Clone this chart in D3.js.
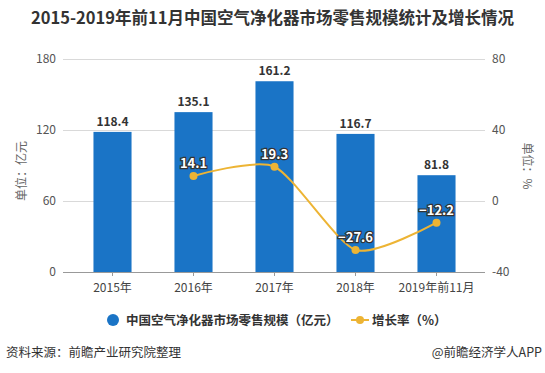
<!DOCTYPE html>
<html lang="zh">
<head>
<meta charset="UTF-8">
<title>空气净化器市场零售规模</title>
<style>
	*{margin:0;padding:0;}
	body{background:#fff;}
	#chart{width:545px;height:373px;}
	text{font-family:"Noto Sans CJK SC","Microsoft YaHei",sans-serif;}
</style>
</head>
<body>
<div id="chart"></div>
<script src="https://cdn.jsdelivr.net/npm/d3@7/dist/d3.min.js"></script>
<script>
var years = ['2015年','2016年','2017年','2018年','2019年前11月']
var scaleVals = [118.4,135.1,161.2,116.7,81.8]
var growth = [null,14.1,19.3,-27.6,-12.2]
var leftTicks = [0,60,120,180]
var rightTicks = [-40,0,40,80]

var W = 545, H = 373
var gTop = 59, gBottom = 272, gl = 63, gr = 485
var blue = '#1a74c6', gold = '#edb434'

var svg = d3.select('#chart').append('svg').attr('width', W).attr('height', H)

svg.append('text').text('2015-2019年前11月中国空气净化器市场零售规模统计及增长情况')
	.attr('x', W/2).attr('y', 24).attr('text-anchor','middle')
	.attr('font-size', 16.5).attr('font-weight','bold').attr('fill','#333')

var x = d3.scaleBand().domain(years).range([72, 477]).paddingInner(0.53).paddingOuter(0.265)
var yL = d3.scaleLinear().domain([0,180]).range([gBottom, gTop])
var yR = d3.scaleLinear().domain([-40,80]).range([gBottom, gTop])

// grid + left labels
var g = svg.append('g')
leftTicks.forEach(function(t){
	if(t !== 0) g.append('line').attr('x1', gl).attr('x2', gr).attr('y1', yL(t)+0.5).attr('y2', yL(t)+0.5)
		.attr('stroke','#d9d9d9').attr('stroke-width',1)
	g.append('text').text(t).attr('x', 56).attr('y', yL(t)+4).attr('text-anchor','end')
		.attr('font-size',12).attr('fill','#555')
})
rightTicks.forEach(function(t){
	g.append('text').text(t).attr('x', 492).attr('y', yR(t)+4)
		.attr('font-size',12).attr('fill','#555')
})

svg.append('text').text('单位：亿元').attr('transform','translate(26,171) rotate(-90)')
	.attr('text-anchor','middle').attr('font-size',12).attr('fill','#666')
svg.append('text').text('单位：%').attr('transform','translate(523,166) rotate(90)')
	.attr('text-anchor','middle').attr('font-size',12).attr('fill','#666')

// bars
svg.selectAll('rect.bar').data(scaleVals).enter().append('rect')
	.attr('x', function(d,i){return x(years[i])}).attr('width', x.bandwidth())
	.attr('y', function(d){return yL(d)}).attr('height', function(d){return gBottom - yL(d)})
	.attr('fill', blue)
svg.selectAll('text.bv').data(scaleVals).enter().append('text')
	.text(function(d){return d.toFixed(1)})
	.attr('x', function(d,i){return x(years[i]) + x.bandwidth()/2}).attr('y', function(d){return yL(d)-6})
	.attr('text-anchor','middle').attr('font-size',12).attr('font-weight','bold').attr('fill','#333')

// x axis
var xa = d3.axisBottom(x).tickSize(4).tickSizeOuter(0)
var ax = svg.append('g').attr('transform','translate(0,'+gBottom+')').call(xa)
ax.select('.domain').attr('d', 'M'+gl+',0.5H'+gr).attr('stroke','#999')
ax.selectAll('.tick line').attr('stroke','#999')
ax.selectAll('.tick text').attr('font-size',12).attr('fill','#444').attr('dy','1.1em')
	.style('font-family','"Noto Sans CJK SC",sans-serif')

// growth line
var pts = growth.map(function(d,i){return {v:d, x:x(years[i]) + x.bandwidth()/2}}).filter(function(p){return p.v !== null})
var line = d3.line().x(function(p){return p.x}).y(function(p){return yR(p.v)}).curve(d3.curveCardinal.tension(0.3))
svg.append('path').attr('d', line(pts)).attr('fill','none').attr('stroke', gold).attr('stroke-width',2)
svg.selectAll('circle.pt').data(pts).enter().append('circle')
	.attr('cx', function(p){return p.x}).attr('cy', function(p){return yR(p.v)}).attr('r',4).attr('fill', gold)
svg.selectAll('text.lv').data(pts).enter().append('text')
	.text(function(p){return p.v.toFixed(1).replace('-','−')})
	.attr('x', function(p){return p.x}).attr('y', function(p){return yR(p.v)-8})
	.attr('text-anchor','middle').attr('font-size',13).attr('font-weight','bold')
	.attr('fill','#fff').attr('stroke','#333').attr('stroke-width',2.5).attr('paint-order','stroke')

// legend
svg.append('circle').attr('cx',113).attr('cy',320).attr('r',6).attr('fill', blue)
svg.append('text').text('中国空气净化器市场零售规模（亿元）').attr('x',126).attr('y',325)
	.attr('font-size',12.5).attr('font-weight','bold').attr('fill','#333')
svg.append('line').attr('x1',351).attr('x2',369).attr('y1',320).attr('y2',320).attr('stroke',gold).attr('stroke-width',2)
svg.append('circle').attr('cx',360).attr('cy',320).attr('r',4).attr('fill', gold)
svg.append('text').text('增长率（%）').attr('x',372).attr('y',325)
	.attr('font-size',12.5).attr('font-weight','bold').attr('fill','#333')

// footer
svg.append('text').text('资料来源：前瞻产业研究院整理').attr('x',6).attr('y',357)
	.attr('font-size',12.5).attr('fill','#333')
svg.append('text').text('@前瞻经济学人APP').attr('x',542).attr('y',357).attr('text-anchor','end')
	.attr('font-size',12.5).attr('fill','#333')
</script>
</body>
</html>
